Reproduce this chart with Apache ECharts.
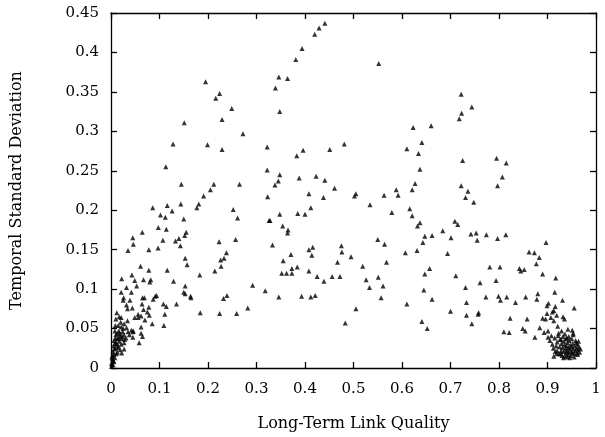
<!DOCTYPE html>
<html><head><meta charset="utf-8">
<script src="https://cdn.jsdelivr.net/npm/echarts@6/dist/echarts.min.js"></script>
<style>html,body{margin:0;padding:0;background:#fff}#c{width:605px;height:437px}</style>
</head><body><div id="c"></div>
<script>
// Axis ticks
var xTicks = [0,0.1,0.2,0.3,0.4,0.5,0.6,0.7,0.8,0.9,1];
var yTicks = [0,0.05,0.1,0.15,0.2,0.25,0.3,0.35,0.4,0.45];
var xTitle = "Long-Term Link Quality";
var yTitle = "Temporal Standard Deviation";

// [long-term link quality, temporal std dev]
var upperPoints = [
[0.195,0.363],[0.224,0.348],[0.216,0.342],[0.249,0.329],[0.229,0.315],[0.151,0.311],
[0.441,0.437],[0.429,0.431],[0.420,0.423],[0.394,0.405],[0.381,0.391],[0.552,0.386],
[0.346,0.369],[0.364,0.367],[0.339,0.355],[0.348,0.325],[0.623,0.305],[0.722,0.347],
[0.744,0.331],[0.723,0.323],[0.718,0.316],[0.660,0.307],[0.272,0.297],[0.128,0.284],
[0.199,0.283],[0.229,0.277],[0.322,0.280],[0.113,0.255],[0.322,0.251],[0.145,0.233],
[0.212,0.233],[0.265,0.233],[0.205,0.226],[0.191,0.218],[0.323,0.217],[0.086,0.203],
[0.116,0.206],[0.144,0.208],[0.126,0.199],[0.181,0.208],[0.177,0.203],[0.252,0.201],
[0.102,0.194],[0.112,0.191],[0.150,0.189],[0.261,0.190],[0.326,0.187],[0.0975,0.178],
[0.114,0.176],[0.0645,0.172],[0.155,0.172],[0.152,0.168],[0.045,0.165],[0.140,0.164],
[0.107,0.162],[0.133,0.161],[0.257,0.163],[0.223,0.160],[0.046,0.157],[0.143,0.155]
];
var lowLeftPoints = [
[0.035,0.149],[0.078,0.150],[0.097,0.152],[0.238,0.146],[0.233,0.139],[0.226,0.137],
[0.153,0.139],[0.157,0.131],[0.227,0.129],[0.214,0.123],[0.061,0.129],[0.078,0.124],
[0.116,0.124],[0.043,0.118],[0.183,0.118],[0.022,0.113],[0.049,0.111],[0.067,0.112],
[0.082,0.112],[0.080,0.109],[0.129,0.110],[0.053,0.104],[0.032,0.102],[0.153,0.104],
[0.292,0.105],[0.318,0.098],[0.021,0.096],[0.042,0.096],[0.150,0.096],[0.153,0.094],
[0.094,0.092],[0.091,0.091],[0.164,0.091],[0.165,0.089],[0.065,0.089],[0.069,0.089],
[0.087,0.087],[0.026,0.089],[0.025,0.086],[0.039,0.086],[0.239,0.092],[0.232,0.088],
[0.032,0.080],[0.064,0.081],[0.108,0.081],[0.114,0.078],[0.135,0.081],[0.078,0.077],
[0.034,0.075],[0.044,0.076],[0.067,0.074],[0.282,0.076],[0.012,0.070],[0.056,0.068],
[0.075,0.071],[0.079,0.067],[0.111,0.068],[0.184,0.070],[0.224,0.069],[0.259,0.069],
[0.017,0.065],[0.021,0.064],[0.049,0.064],[0.056,0.064],[0.062,0.066],[0.010,0.062],
[0.034,0.060],[0.070,0.061],[0.085,0.056],[0.109,0.054],[0.009,0.054],[0.015,0.054],
[0.027,0.056],[0.021,0.052],[0.032,0.051],[0.062,0.052],[0.042,0.048],[0.046,0.047],
[0.045,0.046],[0.008,0.047],[0.016,0.047],[0.024,0.046],[0.013,0.044],[0.062,0.044],
[0.027,0.042],[0.038,0.042],[0.010,0.042],[0.019,0.041],[0.045,0.039],[0.065,0.040],
[0.009,0.038],[0.022,0.037],[0.031,0.038],[0.013,0.037],[0.006,0.035],[0.017,0.034],
[0.027,0.032],[0.058,0.032],[0.008,0.031],[0.021,0.030],[0.005,0.028],[0.015,0.028],
[0.027,0.024],[0.009,0.025],[0.019,0.023],[0.004,0.021],[0.013,0.020],[0.022,0.019],
[0.006,0.017],[0.002,0.014],[0.008,0.013],[0.004,0.010],[0.006,0.008],[0.001,0.006],
[0.004,0.004],[0.001,0.002],[0.012,0.030],[0.018,0.044],[0.025,0.050],[0.011,0.018],
[0.007,0.024],[0.003,0.012],[0.016,0.038],[0.028,0.036],[0.035,0.046],[0.020,0.058],
[0.003,0.016],[0.010,0.033],[0.014,0.026],[0.005,0.009],[0.002,0.004],[0.023,0.040]
];
var midPoints = [
[0.641,0.286],[0.610,0.278],[0.634,0.272],[0.396,0.276],[0.451,0.277],[0.481,0.284],
[0.383,0.269],[0.348,0.245],[0.388,0.241],[0.423,0.243],[0.441,0.238],[0.637,0.252],
[0.345,0.237],[0.338,0.232],[0.627,0.234],[0.461,0.228],[0.588,0.226],[0.621,0.226],
[0.408,0.221],[0.438,0.216],[0.505,0.221],[0.502,0.218],[0.563,0.219],[0.592,0.219],
[0.534,0.207],[0.616,0.202],[0.348,0.195],[0.385,0.196],[0.400,0.195],[0.412,0.203],
[0.579,0.197],[0.621,0.193],[0.328,0.187],[0.354,0.180],[0.365,0.175],[0.364,0.171],
[0.637,0.184],[0.632,0.180],[0.647,0.167],[0.643,0.159],[0.550,0.163],[0.564,0.157],
[0.333,0.156],[0.475,0.155],[0.408,0.150],[0.416,0.153],[0.371,0.144],[0.414,0.143],
[0.476,0.147],[0.495,0.141],[0.355,0.136],[0.467,0.134],[0.568,0.134],[0.607,0.146],
[0.631,0.149],[0.384,0.128],[0.373,0.126],[0.519,0.129],[0.352,0.120],[0.362,0.120],
[0.373,0.120],[0.408,0.123],[0.425,0.116],[0.456,0.116],[0.472,0.116],[0.439,0.110],
[0.526,0.112],[0.551,0.115],[0.533,0.102],[0.561,0.104],[0.657,0.126],[0.647,0.119],
[0.645,0.099],[0.346,0.090],[0.393,0.091],[0.412,0.090],[0.421,0.092],[0.557,0.089],
[0.610,0.081],[0.505,0.075],[0.641,0.059],[0.652,0.050],[0.483,0.057]
];
var rightPoints = [
[0.725,0.263],[0.795,0.266],[0.815,0.260],[0.807,0.242],[0.722,0.231],[0.797,0.231],
[0.736,0.224],[0.731,0.216],[0.748,0.210],[0.709,0.186],[0.715,0.182],[0.662,0.168],
[0.684,0.174],[0.701,0.165],[0.742,0.170],[0.753,0.171],[0.755,0.162],[0.774,0.169],
[0.797,0.164],[0.814,0.169],[0.897,0.159],[0.694,0.145],[0.862,0.147],[0.873,0.146],
[0.883,0.140],[0.877,0.132],[0.711,0.117],[0.781,0.128],[0.802,0.128],[0.842,0.126],
[0.845,0.123],[0.852,0.125],[0.890,0.119],[0.917,0.114],[0.794,0.111],[0.761,0.108],
[0.731,0.102],[0.662,0.087],[0.773,0.090],[0.799,0.091],[0.803,0.086],[0.816,0.090],
[0.834,0.083],[0.855,0.090],[0.880,0.094],[0.878,0.087],[0.915,0.096],[0.931,0.086],
[0.733,0.083],[0.902,0.082],[0.899,0.079],[0.916,0.078],[0.955,0.076],[0.700,0.072],
[0.733,0.067],[0.758,0.070],[0.757,0.068],[0.913,0.073],[0.910,0.071],[0.899,0.069],
[0.919,0.067],[0.907,0.064],[0.890,0.063],[0.896,0.062],[0.823,0.063],[0.858,0.062],
[0.932,0.065],[0.935,0.062],[0.913,0.060],[0.744,0.056],[0.849,0.050],[0.854,0.047],
[0.810,0.046],[0.821,0.045],[0.884,0.051],[0.921,0.053],[0.942,0.049],[0.951,0.048],
[0.953,0.044],[0.893,0.045],[0.901,0.047],[0.874,0.039],[0.901,0.039]
];
var highCluster = [
[0.905,0.035],[0.910,0.030],[0.912,0.025],[0.915,0.038],[0.918,0.028],[0.920,0.022],
[0.920,0.033],[0.922,0.041],[0.924,0.018],[0.925,0.027],[0.926,0.036],[0.928,0.022],
[0.929,0.031],[0.930,0.016],[0.931,0.026],[0.932,0.040],[0.933,0.021],[0.934,0.034],
[0.935,0.029],[0.936,0.015],[0.937,0.024],[0.938,0.019],[0.938,0.037],[0.939,0.028],
[0.940,0.022],[0.941,0.032],[0.942,0.017],[0.943,0.026],[0.944,0.020],[0.945,0.035],
[0.946,0.024],[0.947,0.029],[0.948,0.016],[0.949,0.021],[0.950,0.027],[0.951,0.019],
[0.952,0.031],[0.953,0.024],[0.955,0.018],[0.956,0.028],[0.957,0.022],[0.958,0.035],
[0.960,0.025],[0.961,0.019],[0.962,0.030],[0.963,0.023],[0.965,0.027],[0.966,0.020],
[0.968,0.024],[0.927,0.018],[0.933,0.013],[0.941,0.014],[0.946,0.013],[0.919,0.018],
[0.916,0.021],[0.923,0.044],[0.929,0.047],[0.936,0.043],[0.908,0.041],[0.944,0.040],
[0.950,0.037],[0.953,0.042],[0.959,0.032],[0.964,0.034],[0.962,0.017],[0.955,0.014],
[0.913,0.015],[0.928,0.036],[0.940,0.038]
];

var allPoints = upperPoints.concat(lowLeftPoints, midPoints, rightPoints, highCluster);
var FONT = "DejaVu Serif";
function fmt(v){ return String(Math.round(v*100)/100); }

var chart = echarts.init(document.getElementById('c'), null, {renderer:'canvas'});
var axisBase = {
  axisLine:{show:true, onZero:false, lineStyle:{color:'#000', width:1.3}},
  axisTick:{show:true, inside:true, length:6, lineStyle:{color:'#000', width:1.3}},
  splitLine:{show:false}
};
chart.setOption({
  animation:false,
  backgroundColor:'#fff',
  grid:{left:111, right:9, top:13, bottom:64},
  xAxis:[
    Object.assign({type:'value', min:xTicks[0], max:xTicks[xTicks.length-1], interval:0.1, position:'bottom',
      axisLabel:{color:'#000', fontFamily:FONT, fontSize:15, margin:14, formatter:fmt},
      name:xTitle, nameLocation:'middle', nameGap:48,
      nameTextStyle:{color:'#000', fontFamily:FONT, fontSize:16}}, axisBase),
    Object.assign({type:'value', min:xTicks[0], max:xTicks[xTicks.length-1], interval:0.1, position:'top',
      axisLabel:{show:false}}, axisBase)
  ],
  yAxis:[
    Object.assign({type:'value', min:yTicks[0], max:yTicks[yTicks.length-1], interval:0.05, position:'left',
      axisLabel:{color:'#000', fontFamily:FONT, fontSize:15, margin:12, formatter:fmt},
      name:yTitle, nameLocation:'middle', nameGap:86, nameRotate:90,
      nameTextStyle:{color:'#000', fontFamily:FONT, fontSize:16}}, axisBase),
    Object.assign({type:'value', min:yTicks[0], max:yTicks[yTicks.length-1], interval:0.05, position:'right',
      axisLabel:{show:false}}, axisBase)
  ],
  series:[{
    type:'scatter', xAxisIndex:0, yAxisIndex:0,
    symbol:'triangle', symbolSize:5,
    itemStyle:{color:'#000'},
    data:allPoints
  }]
});
</script></body></html>
